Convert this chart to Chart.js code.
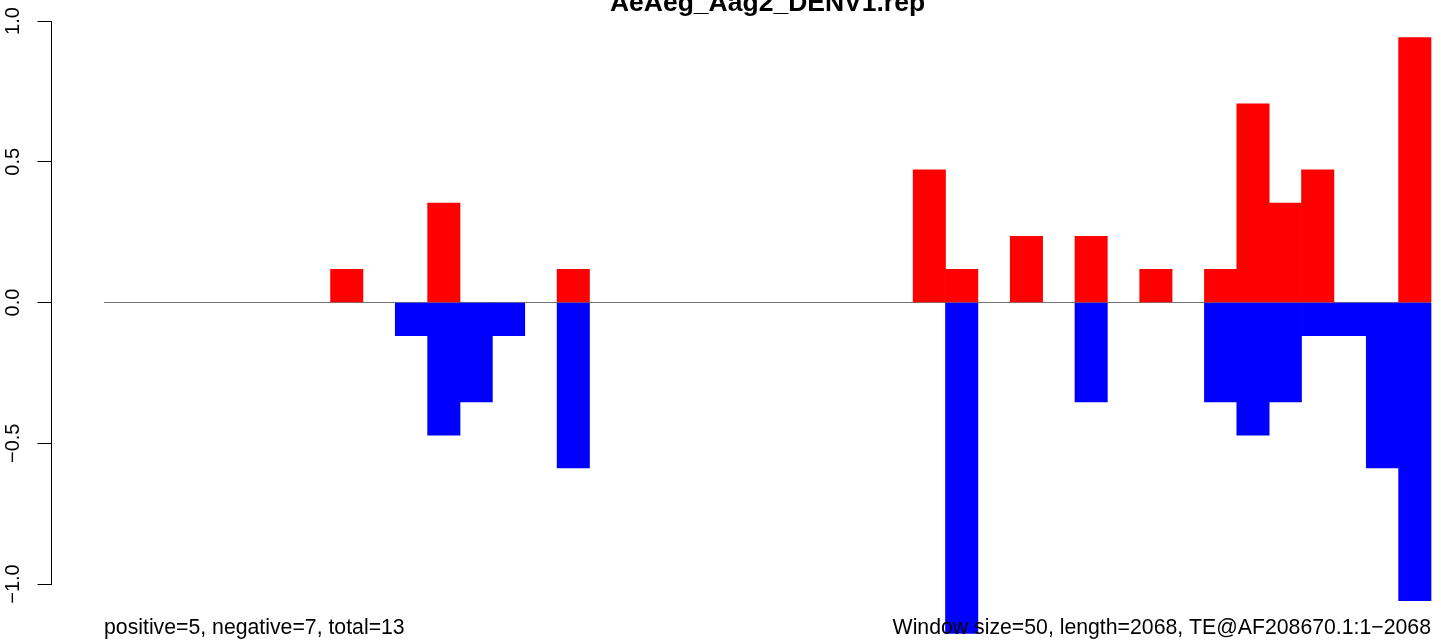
<!DOCTYPE html>
<html>
<head>
<meta charset="utf-8">
<script src="https://cdn.jsdelivr.net/npm/chart.js@4/dist/chart.umd.min.js"></script>
<style>
html,body{margin:0;padding:0;background:#fff;overflow:hidden}
canvas{display:block}
</style>
</head>
<body>
<canvas id="c" width="1441" height="641"></canvas>
<script>
const chartTitle = "AeAeg_Aag2_DENV1.rep";
const leftNote = "positive=5, negative=7, total=13";
const rightNote = "Window size=50, length=2068, TE@AF208670.1:1\u22122068";
const windowSize = 50;
const binStarts = [0,50,100,150,200,250,300,350,400,450,500,550,600,650,700,750,800,850,900,950,
  1000,1050,1100,1150,1200,1250,1300,1350,1400,1450,1500,1550,1600,1650,1700,1750,1800,1850,1900,1950,2000];
const positiveValues = [null,null,null,null,null,null,null,
  0.118,
  null,null,
  0.353,
  null,null,null,
  0.118,
  null,null,null,null,null,null,null,null,null,null,
  0.471,0.118,
  null,0.235,null,0.235,null,0.118,null,
  0.118,0.706,0.353,0.471,
  null,null,0.941];
const negativeValues = [null,null,null,null,null,null,null,null,null,
  -0.118,-0.471,-0.353,-0.118,
  null,
  -0.588,
  null,null,null,null,null,null,null,null,null,null,null,
  -1.176,
  null,null,null,
  -0.353,
  null,null,null,
  -0.353,-0.471,-0.353,-0.118,-0.118,-0.588,-1.059];
const yTickValues = [-1, -0.5, 0, 0.5, 1];
const yTickLabels = ["\u22121.0", "\u22120.5", "0.0", "0.5", "1.0"];

const FONT = '"Liberation Sans", Arial, Helvetica, sans-serif';
Chart.defaults.font.family = FONT;
Chart.defaults.color = '#000';

const xEnd = binStarts[binStarts.length - 1] + windowSize;
const toPoints = vals => binStarts.map((s, i) => ({x: s + windowSize / 2, y: vals[i]}));

const extras = {
  id: 'extras',
  beforeDatasetsDraw(chart) {
    const {ctx, scales: {x, y}} = chart;
    ctx.save();
    ctx.strokeStyle = '#777';
    ctx.lineWidth = 1.2;
    const yy = y.getPixelForValue(0);
    ctx.beginPath();
    ctx.moveTo(x.getPixelForValue(0), yy);
    ctx.lineTo(x.getPixelForValue(xEnd), yy);
    ctx.stroke();
    ctx.restore();
  },
  afterDraw(chart) {
    const {ctx, scales: {x}} = chart;
    const x0 = x.getPixelForValue(0), x1 = x.getPixelForValue(xEnd);
    ctx.save();
    ctx.fillStyle = '#000';
    ctx.textBaseline = 'alphabetic';
    ctx.font = 'bold 26.5px ' + FONT;
    ctx.textAlign = 'center';
    ctx.fillText(chartTitle, (x0 + x1) / 2, 10.5);
    ctx.font = '21.25px ' + FONT;
    ctx.textAlign = 'left';
    ctx.fillText(leftNote, x0, 634);
    ctx.textAlign = 'right';
    ctx.fillText(rightNote, x1, 634);
    ctx.restore();
  }
};

new Chart(document.getElementById('c'), {
  type: 'bar',
  data: {
    datasets: [
      {label: 'positive', data: toPoints(positiveValues), backgroundColor: '#ff0000', grouped: false, clip: false},
      {label: 'negative', data: toPoints(negativeValues), backgroundColor: '#0000ff', grouped: false, clip: false}
    ]
  },
  options: {
    responsive: false,
    animation: false,
    devicePixelRatio: 1,
    barPercentage: 1,
    categoryPercentage: 1,
    layout: {padding: {top: 21, bottom: 57, left: 0, right: 10}},
    plugins: {legend: {display: false}, tooltip: {enabled: false}, title: {display: false}},
    scales: {
      x: {
        type: 'linear',
        display: false,
        offset: false,
        min: -81.876,
        max: xEnd,
        ticks: {stepSize: 500}
      },
      y: {
        min: -1,
        max: 1,
        afterBuildTicks: s => { s.ticks = yTickValues.map(v => ({value: v})); },
        afterFit: s => { s.width = 51; },
        ticks: {
          minRotation: 90,
          maxRotation: 90,
          crossAlign: 'center',
          padding: 4,
          color: '#000',
          font: {size: 20, family: FONT},
          callback: (v, i) => yTickLabels[i]
        },
        grid: {display: true, drawOnChartArea: false, drawTicks: true, tickLength: 13.5, color: '#000', lineWidth: 1},
        border: {display: true, color: '#000', width: 1}
      }
    }
  },
  plugins: [extras]
});
</script>
</body>
</html>
